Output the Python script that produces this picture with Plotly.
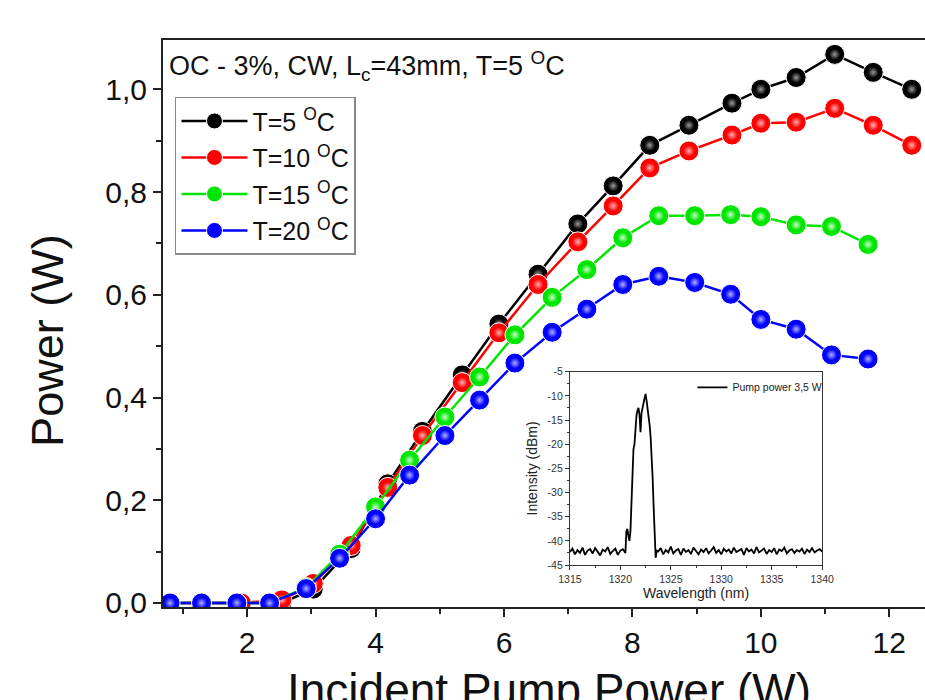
import plotly.graph_objects as go

# ---------------- main chart data ----------------
pump_5_10 = [0.80, 1.29, 1.91, 2.54, 3.03, 3.62, 4.19, 4.73, 5.35, 5.92, 6.53,
             7.15, 7.70, 8.27, 8.88, 9.55, 10.00, 10.55, 11.15, 11.75, 12.35]
power_5 = [0, 0, 0, 0, 0.027, 0.106, 0.232, 0.334, 0.444, 0.543, 0.640,
           0.738, 0.812, 0.891, 0.930, 0.973, 1.000, 1.023, 1.068, 1.033, 1.000]
power_10 = [0, 0, 0, 0.006, 0.038, 0.112, 0.225, 0.326, 0.429, 0.526, 0.620,
            0.703, 0.773, 0.847, 0.880, 0.911, 0.934, 0.936, 0.963, 0.930, 0.891]

pump_15_20 = [0.80, 1.29, 1.84, 2.35, 2.92, 3.44, 4.00, 4.53, 5.08, 5.62, 6.17,
              6.75, 7.29, 7.85, 8.41, 8.97, 9.53, 10.00, 10.55, 11.10, 11.67]
power_15 = [0, 0, 0, 0, 0.030, 0.095, 0.187, 0.278, 0.362, 0.440, 0.522,
            0.595, 0.649, 0.711, 0.754, 0.754, 0.756, 0.752, 0.736, 0.733, 0.698]
power_20 = [0, 0, 0, 0, 0.028, 0.087, 0.164, 0.249, 0.326, 0.395, 0.467,
            0.527, 0.572, 0.620, 0.636, 0.624, 0.601, 0.552, 0.533, 0.483, 0.475]

series_names = ["T=5 <sup>O</sup>C", "T=10 <sup>O</sup>C", "T=15 <sup>O</sup>C", "T=20 <sup>O</sup>C"]
series_colors = ["#000000", "#ff0000", "#00e600", "#0000ff"]

# ---------------- inset spectrum data ----------------
wl_before = [1315.0, 1315.25, 1315.5, 1315.75, 1316.0, 1316.25, 1316.5, 1316.75,
             1317.0, 1317.25, 1317.5, 1317.75, 1318.0, 1318.25, 1318.5, 1318.75,
             1319.0, 1319.25, 1319.5, 1319.75, 1320.0, 1320.25, 1320.5]
db_before = [-42.3, -41.6, -42.8, -41.9, -42.5, -41.4, -42.9, -42.0, -41.7, -42.6,
             -41.5, -42.4, -43.0, -41.8, -42.2, -41.3, -42.7, -42.1, -41.6, -42.9,
             -42.0, -41.7, -42.5]
wl_peak = [1320.6, 1320.7, 1320.8, 1320.9, 1321.0, 1321.1, 1321.2, 1321.3, 1321.4, 1321.5,
           1321.6, 1321.7, 1321.8, 1321.9, 1322.0, 1322.1, 1322.2, 1322.3, 1322.4, 1322.5,
           1322.6, 1322.7, 1322.8, 1322.9, 1323.0, 1323.1, 1323.2, 1323.3, 1323.4, 1323.5,
           1323.6]
db_peak = [-38.0, -37.5, -39.0, -40.0, -38.0, -33.0, -26.0, -21.0, -20.0, -16.5,
           -14.0, -13.0, -12.5, -14.0, -17.5, -13.5, -12.0, -11.5, -10.5, -9.6,
           -11.0, -12.5, -14.5, -16.0, -18.5, -22.0, -27.0, -33.0, -39.0, -43.5,
           -42.0]
wl_after = [1323.75, 1324.0, 1324.25, 1324.5, 1324.75, 1325.0, 1325.25, 1325.5, 1325.75, 1326.0,
            1326.25, 1326.5, 1326.75, 1327.0, 1327.25, 1327.5, 1327.75, 1328.0, 1328.25, 1328.5,
            1328.75, 1329.0, 1329.25, 1329.5, 1329.75, 1330.0, 1330.25, 1330.5, 1330.75, 1331.0,
            1331.25, 1331.5, 1331.75, 1332.0, 1332.25, 1332.5, 1332.75, 1333.0, 1333.25, 1333.5,
            1333.75, 1334.0, 1334.25, 1334.5, 1334.75, 1335.0, 1335.25, 1335.5, 1335.75, 1336.0,
            1336.25, 1336.5, 1336.75, 1337.0, 1337.25, 1337.5, 1337.75, 1338.0, 1338.25, 1338.5,
            1338.75, 1339.0, 1339.25, 1339.5, 1339.75, 1340.0]
db_after = [-42.2, -41.5, -42.8, -41.9, -42.4, -41.2, -42.6, -42.0, -41.7, -42.9,
            -41.6, -42.3, -41.9, -42.7, -41.4, -42.1, -42.8, -41.8, -42.3, -41.5,
            -42.6, -42.0, -41.3, -42.5, -41.9, -42.8, -41.6, -42.2, -41.8, -42.6,
            -41.4, -42.3, -42.0, -41.7, -42.9, -41.5, -42.2, -41.8, -42.6, -41.3,
            -42.4, -42.0, -41.6, -42.7, -41.9, -42.3, -41.5, -42.8, -41.8, -42.1,
            -41.4, -42.6, -42.0, -41.7, -42.5, -41.9, -42.2, -41.6, -42.7, -41.8,
            -42.3, -41.5, -42.4, -42.0, -41.7, -42.2]

inset_x_ticks = [1315, 1320, 1325, 1330, 1335, 1340]
inset_y_ticks = [-5, -10, -15, -20, -25, -30, -35, -40, -45]
inset_y_labels = ["-5", "-10", "-15", "-20", "-25", "-30", "-35", "-40", "-45"]

FONT = "Liberation Sans, Arial, sans-serif"

fig = go.Figure()

xs = [pump_5_10, pump_5_10, pump_15_20, pump_15_20]
ys = [power_5, power_10, power_15, power_20]
highlight = ["#9a9a9a", "#ffb0b0", "#c8ffc8", "#b0b0ff"]

for i, (name, col, hl, x, y) in enumerate(zip(series_names, series_colors, highlight, xs, ys)):
    fig.add_trace(go.Scatter(
        x=x, y=y, name=name, mode="lines+markers", legendgroup=f"g{i}",
        line=dict(color=col, width=2.5),
        marker=dict(size=20, color=col, line=dict(color="white", width=1)),
        xaxis="x", yaxis="y",
    ))
    fig.add_trace(go.Scatter(
        x=x, y=y, mode="markers", showlegend=False, hoverinfo="skip", legendgroup=f"g{i}",
        marker=dict(size=11, color=col, gradient=dict(type="radial", color=hl),
                    line=dict(width=0)),
        xaxis="x", yaxis="y",
    ))

fig.add_trace(go.Scatter(
    x=wl_before + wl_peak + wl_after, y=db_before + db_peak + db_after,
    name="Pump power 3,5 W", mode="lines",
    line=dict(color="black", width=1.8),
    xaxis="x2", yaxis="y2", legend="legend2",
))

fig.update_layout(
    template="none",
    width=925, height=700,
    margin=dict(l=163, r=0, t=40, b=93, pad=0),
    paper_bgcolor="white", plot_bgcolor="white",
    separators=",.",
    font=dict(family=FONT, color="#111"),
    showlegend=True,
    xaxis=dict(
        range=[0.69, 12.556], domain=[0, 1], anchor="y", automargin=False,
        showline=True, linewidth=2, linecolor="#222", mirror=True,
        ticks="outside", ticklen=8, tickwidth=2, tickcolor="#222",
        tick0=0, dtick=2, showgrid=False, zeroline=False,
        minor=dict(ticks="outside", ticklen=5, tickwidth=2, dtick=1, tickcolor="#222", showgrid=False),
        tickfont=dict(size=30, family=FONT, color="#111"),
    ),
    yaxis=dict(
        range=[-0.0078, 1.096], domain=[0, 1], anchor="x", automargin=False,
        showline=True, linewidth=2, linecolor="#222", mirror=False,
        ticks="outside", ticklen=8, tickwidth=2, tickcolor="#222",
        tick0=0, dtick=0.2, tickformat=".1f", showgrid=False, zeroline=False,
        minor=dict(ticks="outside", ticklen=5, tickwidth=2, dtick=0.1, tickcolor="#222", showgrid=False),
        tickfont=dict(size=30, family=FONT, color="#111"),
    ),
    xaxis2=dict(
        range=[1315, 1340], domain=[0.534, 0.865], anchor="y2", automargin=False,
        showline=True, linewidth=1, linecolor="#333", mirror=True,
        ticks="outside", ticklen=4, tickwidth=1, tickcolor="#333",
        tickvals=inset_x_ticks, showgrid=False, zeroline=False,
        minor=dict(ticks="outside", ticklen=2, tickwidth=1, dtick=2.5, tickcolor="#333", showgrid=False),
        tickfont=dict(size=10.5, family=FONT, color="#333"),
        title=dict(text="Wavelength (nm)", font=dict(size=14, family=FONT, color="#222"), standoff=4),
    ),
    yaxis2=dict(
        range=[-45, -5], domain=[0.074, 0.415], anchor="x2", automargin=False,
        showline=True, linewidth=1, linecolor="#333", mirror=True,
        ticks="outside", ticklen=4, tickwidth=1, tickcolor="#333",
        tickvals=inset_y_ticks, ticktext=inset_y_labels, showgrid=False, zeroline=False,
        minor=dict(ticks="outside", ticklen=2, tickwidth=1, dtick=2.5, tickcolor="#333", showgrid=False),
        tickfont=dict(size=10.5, family=FONT, color="#333"),
        title=dict(text="Intensity (dBm)", font=dict(size=14, family=FONT, color="#222"), standoff=6),
    ),
    legend=dict(
        x=0.0157, y=0.900, xanchor="left", yanchor="top",
        bordercolor="#888", borderwidth=1.5, bgcolor="white",
        font=dict(size=25, family=FONT, color="#111"),
        tracegroupgap=1, itemwidth=66, traceorder="grouped",
    ),
    legend2=dict(
        x=0.872, y=0.413, xanchor="right", yanchor="top",
        bgcolor="rgba(0,0,0,0)", borderwidth=0,
        font=dict(size=10.5, family=FONT, color="#222"),
    ),
    annotations=[
        dict(text="OC - 3%, CW, L<sub>c</sub>=43mm, T=5 <sup>O</sup>C",
             xref="paper", yref="paper", x=0.005, y=0.954, xanchor="left", yanchor="middle",
             showarrow=False, font=dict(size=27, family=FONT, color="#111")),
        dict(text="Power (W)", textangle=-90,
             xref="paper", yref="paper", x=-0.151, y=0.471, xanchor="center", yanchor="middle",
             showarrow=False, font=dict(size=45, family=FONT, color="#111")),
        dict(text="Incident Pump Power (W)",
             xref="paper", yref="paper", x=0.507, y=-0.097, xanchor="center", yanchor="top",
             showarrow=False, font=dict(size=46, family=FONT, color="#111")),
    ],
)

fig.write_html("out.html")
